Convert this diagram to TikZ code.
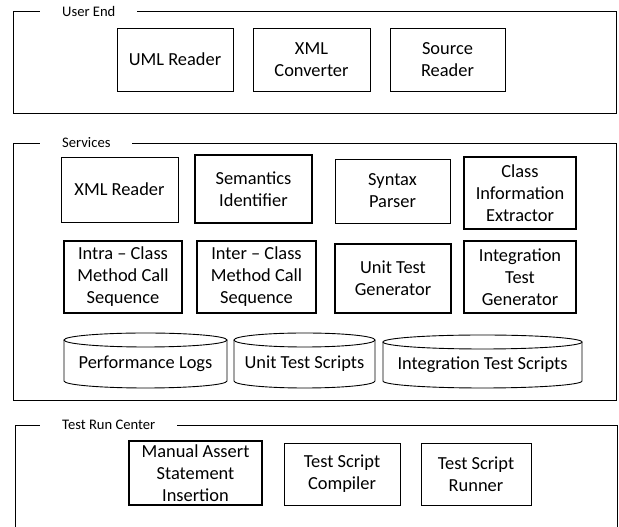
\documentclass[tikz,border=0pt]{standalone}
\usepackage{fontspec}
\setmainfont{Carlito}
\begin{document}
\begin{tikzpicture}[x=1pt,y=1pt,
  box/.style={draw, line width=0.9pt, align=center, inner sep=0pt,
    font=\fontsize{18.4}{22}\selectfont},
  tbox/.style={box, line width=2.3pt},
  frame/.style={draw, line width=0.9pt},
  flabel/.style={fill=white, anchor=west, inner xsep=22pt, inner ysep=1pt,
    font=\fontsize{14.6}{16}\selectfont},
  cyl/.style={draw, line width=0.9pt},
  ctext/.style={inner sep=0pt, font=\fontsize{18.4}{22}\selectfont}]
\useasboundingbox (0,0) rectangle (619,527);
% frames
\draw[frame] (13,516) rectangle (616,414);
\node[flabel] (ue) at (40,516) {User End};
\draw[frame] (13,384) rectangle (616,127);
\node[flabel] (sv) at (40,384) {Services};
\draw[frame] (15,-2) -- (15,102) -- (617,102) -- (617,-2);
\node[flabel] (trc) at (40,102) {Test Run Center};
% user end
\node[box, minimum width=116pt, minimum height=63pt] (uml) at (175,467.5) {UML Reader};
\node[box, minimum width=117pt, minimum height=63pt] (xmlc) at (311.5,467.5) {XML\\Converter};
\node[box, minimum width=115pt, minimum height=63pt] (src) at (447.5,467.5) {Source\\Reader};
% services row 1
\node[box, minimum width=117pt, minimum height=65pt] (xmlr) at (119.5,337.5) {XML Reader};
\node[tbox, minimum width=117pt, minimum height=68pt] (sem) at (253.5,338) {Semantics\\Identifier};
\node[box, minimum width=115pt, minimum height=64pt] (syn) at (392.5,336) {Syntax\\Parser};
\node[tbox, minimum width=112pt, minimum height=72pt] (cie) at (520,334) {Class\\Information\\Extractor};
% services row 2
\node[tbox, minimum width=118pt, minimum height=72pt] (intra) at (123,250) {Intra -- Class\\Method Call\\Sequence};
\node[tbox, minimum width=119pt, minimum height=72pt] (inter) at (256.5,250) {Inter -- Class\\Method Call\\Sequence};
\node[tbox, minimum width=116pt, minimum height=69pt] (utg) at (393,248.5) {Unit Test\\Generator};
\node[tbox, minimum width=112pt, minimum height=72pt] (itg) at (520,250) {Integration\\Test\\Generator};
% cylinders
\draw[cyl] (145.5,187) ellipse [x radius=81.5, y radius=7];
\draw[cyl] (64,187) -- (64,146) arc[start angle=180, end angle=360, x radius=81.5, y radius=7] -- (227,187);
\node[ctext] (pl) at (145.5,163) {Performance Logs};
\draw[cyl] (304.5,187) ellipse [x radius=70.5, y radius=7];
\draw[cyl] (234,187) -- (234,146) arc[start angle=180, end angle=360, x radius=70.5, y radius=7] -- (375,187);
\node[ctext] (uts) at (304.5,163) {Unit Test Scripts};
\draw[cyl] (482.5,185) ellipse [x radius=99.5, y radius=7];
\draw[cyl] (383,185) -- (383,146) arc[start angle=180, end angle=360, x radius=99.5, y radius=7] -- (582,185);
\node[ctext] (its) at (482.5,162) {Integration Test Scripts};
% test run center
\node[tbox, minimum width=133pt, minimum height=64pt] (mas) at (195.5,54) {Manual Assert\\Statement\\Insertion};
\node[box, minimum width=116pt, minimum height=62pt] (tsc) at (342,53) {Test Script\\Compiler};
\node[box, minimum width=110pt, minimum height=62pt] (tsr) at (476,53) {Test Script\\Runner};
\end{tikzpicture}
\end{document}
